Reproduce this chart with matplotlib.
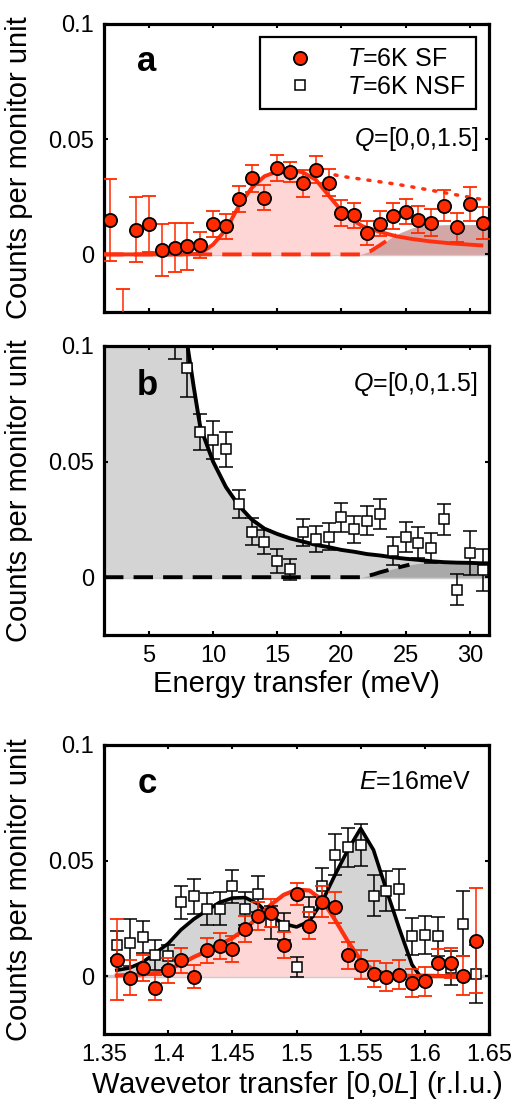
import matplotlib
matplotlib.use("Agg")
import matplotlib.pyplot as plt
from matplotlib.lines import Line2D

plt.rcParams['font.family'] = ['Liberation Sans', 'DejaVu Sans']
plt.rcParams['mathtext.fontset'] = 'custom'
plt.rcParams['mathtext.rm'] = 'Liberation Sans'
plt.rcParams['mathtext.it'] = 'Liberation Sans:italic'

# ---------------- data ----------------
# panel a: SF, Q=[0,0,1.5]
a_E = [2, 3, 4, 5, 6, 7, 8, 9, 10, 11, 12, 13, 14, 15, 16, 17, 18, 19, 20, 21,
       22, 23, 24, 25, 26, 27, 28, 29, 30, 31]
a_I = [0.0148, -0.035, 0.0108, 0.0133, 0.0019, 0.0029, 0.0036, 0.0040, 0.0133, 0.0122,
       0.0241, 0.0331, 0.0246, 0.0375, 0.0357, 0.0308, 0.0367, 0.0311, 0.0180, 0.0170,
       0.0092, 0.0134, 0.0167, 0.0186, 0.0150, 0.0137, 0.0212, 0.0118, 0.0219, 0.0135]
a_err = [0.0178, 0.020, 0.0142, 0.0122, 0.0111, 0.0107, 0.0102, 0.0056, 0.0057, 0.0053,
         0.0056, 0.0059, 0.0055, 0.0058, 0.0043, 0.0058, 0.0058, 0.0058, 0.0055, 0.0055,
         0.0053, 0.0053, 0.0056, 0.0056, 0.0059, 0.0059, 0.0066, 0.0063, 0.0073, 0.0070]

a_fit_E = [1.5, 8.0, 9.0, 10.0, 11.0, 12.0, 13.0, 14.0, 15.0, 16.0, 17.0, 18.0, 19.07,
           20.0, 21.0, 21.66, 23.0, 24.25, 25.5, 26.85, 28.5, 30.9]
a_fit_I = [0.0, 0.0, 0.0004, 0.0043, 0.0108, 0.0209, 0.0288, 0.0339, 0.0360, 0.0367,
           0.0356, 0.0324, 0.0251, 0.0190, 0.0145, 0.0122, 0.0098, 0.0079, 0.0067, 0.0057,
           0.0048, 0.0039]
a_dot_E = [19.5, 20, 21, 22, 23, 24, 25, 26, 27, 28, 29, 30, 31]
a_dot_I = [0.0345, 0.0339, 0.0331, 0.0323, 0.0315, 0.0307, 0.0298, 0.0288, 0.0278,
           0.0268, 0.0258, 0.0248, 0.0238]
a_bg_E = [1.5, 21.5, 22.3, 23.0, 23.9, 24.6, 25.5, 26.6, 28.0, 31.5]
a_bg_I = [0.0, 0.0, 0.0015, 0.0040, 0.0073, 0.0095, 0.0115, 0.0125, 0.0129, 0.0130]
a_bg_dash_end = 24.3

# panel b: NSF, Q=[0,0,1.5]
b_E = [7, 8, 9, 10, 11, 12, 13, 14, 15, 16, 17, 18, 19, 20, 21, 22, 23, 24, 25, 26,
       27, 28, 29, 30, 31]
b_I = [0.107, 0.0906, 0.0629, 0.0593, 0.0553, 0.0317, 0.0197, 0.0153, 0.0071, 0.0035,
       0.0194, 0.0164, 0.0176, 0.0259, 0.0207, 0.0245, 0.0273, 0.0115, 0.0173, 0.0150,
       0.0125, 0.0250, -0.0055, 0.0106, 0.0032]
b_err = [0.0125, 0.0125, 0.0079, 0.0081, 0.0077, 0.0061, 0.0058, 0.0053, 0.0052, 0.0045,
         0.0058, 0.0056, 0.0059, 0.0063, 0.0059, 0.0062, 0.0065, 0.0061, 0.0064, 0.0065,
         0.0065, 0.0068, 0.0067, 0.0095, 0.0090]
b_fit_E = [1.5, 7.9, 8.5, 9, 10, 11, 12, 13, 14, 15, 16, 17, 18, 19, 20, 21, 22, 23, 24,
           25, 26, 27, 28, 29, 30, 31, 31.5]
b_fit_I = [0.13, 0.104, 0.082, 0.065, 0.050, 0.039, 0.031, 0.025, 0.021, 0.0187, 0.0168,
           0.0154, 0.0140, 0.0130, 0.0118, 0.0110, 0.0100, 0.0094, 0.0086, 0.0080, 0.0075,
           0.0069, 0.0065, 0.0063, 0.0062, 0.0060, 0.0060]
b_bg_E = [1.5, 21.6, 22.5, 23.0, 24.0, 25.0, 26.0, 27.0, 28.0, 31.5]
b_bg_I = [0.0, 0.0, 0.0012, 0.0021, 0.0036, 0.0050, 0.0060, 0.0065, 0.0067, 0.0068]
b_bg_dash_end = 25.3

# panel c: E = 16 meV, L scan
c_L = [1.36, 1.37, 1.38, 1.39, 1.40, 1.41, 1.42, 1.43, 1.44, 1.45, 1.46, 1.47, 1.48,
       1.49, 1.50, 1.51, 1.52, 1.53, 1.54, 1.55, 1.56, 1.57, 1.58, 1.59, 1.60, 1.61,
       1.62, 1.63, 1.64]
c_sf = [0.0072, -0.0007, 0.0036, -0.0050, 0.0026, 0.0069, -0.0003, 0.0112, 0.0129,
        0.0118, 0.0204, 0.0259, 0.0273, 0.0136, 0.0356, 0.0218, 0.0323, 0.0299, 0.0090,
        0.0050, 0.0011, -0.0003, 0.0007, -0.0029, -0.0022, 0.0057, 0.0057, 0.0003, 0.0154]
c_sf_err = [0.0176, 0.0075, 0.0057, 0.0055, 0.0054, 0.0054, 0.0050, 0.0054, 0.0056,
            0.0056, 0.0056, 0.0060, 0.0060, 0.0057, 0.0047, 0.0059, 0.0065, 0.0067, 0.0058,
            0.0062, 0.0056, 0.0062, 0.0062, 0.0060, 0.0062, 0.0062, 0.0065, 0.0085, 0.0226]
c_nsf = [0.0137, 0.0144, 0.0170, 0.0093, 0.0086, 0.0319, 0.0345, 0.0292, 0.0292, 0.0388,
         0.0292, 0.0356, 0.0233, 0.0216, 0.0040, 0.0276, 0.0388, 0.0526, 0.0557, 0.0569,
         0.0349, 0.0369, 0.0376, 0.0172, 0.0180, 0.0172, 0.0036, 0.0227, 0.0011]
c_nsf_err = [0.0060, 0.0102, 0.0070, 0.0065, 0.0051, 0.0072, 0.0076, 0.0070, 0.0072,
             0.0073, 0.0072, 0.0079, 0.0072, 0.0058, 0.0043, 0.0068, 0.0079, 0.0088, 0.0085,
             0.0091, 0.0088, 0.0088, 0.0088, 0.0079, 0.0082, 0.0083, 0.0072, 0.0140, 0.0126]
c_fit_L = [1.36, 1.37, 1.38, 1.39, 1.40, 1.41, 1.42, 1.43, 1.44, 1.45, 1.46, 1.47, 1.48,
           1.49, 1.50, 1.51, 1.52, 1.53, 1.54, 1.55, 1.56, 1.57, 1.58, 1.59, 1.596, 1.64]
c_fit_nsf = [0.0026, 0.0036, 0.0060, 0.0100, 0.0141, 0.0201, 0.0247, 0.0284, 0.0319,
             0.0338, 0.0340, 0.0313, 0.0259, 0.0227, 0.0213, 0.0237, 0.0323, 0.0438, 0.0546,
             0.0639, 0.0546, 0.0374, 0.0208, 0.0050, 0.0003, 0.0]
c_fit_sf = [0.0003, 0.0005, 0.0007, 0.0014, 0.0029, 0.0053, 0.0083, 0.0108, 0.0136,
            0.0165, 0.0204, 0.0256, 0.0309, 0.0352, 0.0374, 0.0371, 0.0330, 0.0244, 0.0151,
            0.0069, 0.0026, 0.0010, 0.0003, 0.0001, 0.0, 0.0]

legend_labels = ['$T$=6K SF', '$T$=6K NSF']

# ---------------- style ----------------
RED = '#ff2a00'
RED_LINE = '#ff3010'
PINK = '#ffd6d6'
DPINK = '#d4a7a7'
GREY = '#d4d4d4'
DGREY = '#a9a9a9'
FS_TICK = 17
FS_LAB = 21

fig = plt.figure(figsize=(5.17, 11.06), dpi=100)
W, H = 517.0, 1106.0


def add_ax(x0, x1, ytop, ybot):
    return fig.add_axes([x0 / W, 1 - ybot / H, (x1 - x0) / W, (ybot - ytop) / H])


axa = add_ax(104, 489, 24, 312)
axb = add_ax(104, 489, 346, 635)
axc = add_ax(104, 489, 745, 1034)


def style(ax):
    for s in ax.spines.values():
        s.set_linewidth(2.3)
    ax.tick_params(direction='in', top=True, right=True, length=3, width=1.5,
                   labelsize=FS_TICK)
    ax.tick_params(axis='x', pad=7.5)
    ax.tick_params(axis='y', pad=7)
    ax.set_ylim(-0.025, 0.1)
    ax.set_yticks([0, 0.05, 0.1])
    ax.set_yticklabels(['0', '0.05', '0.1'])
    ax.set_ylabel('Counts per monitor unit', fontsize=FS_LAB)
    ax.yaxis.set_label_coords(-0.185, 0.5)
    ax.axhline(0, color='#cccccc', lw=2.5, zorder=0.5)


ebkw = dict(elinewidth=1.1, capsize=5, capthick=1.1, linestyle='none')

# ---- panel a ----
ax = axa
style(ax)
ax.set_xlim(1.5, 31.5)
ax.set_xticks([5, 10, 15, 20, 25, 30])
ax.set_xticklabels([])
ax.fill_between(a_fit_E, 0, a_fit_I, color=PINK, lw=0, zorder=1)
ax.fill_between(a_bg_E, 0, a_bg_I, color=DPINK, lw=0, zorder=1.5)
ax.plot(a_fit_E, a_fit_I, color=RED_LINE, lw=2.8, zorder=3)
ax.plot(a_dot_E, a_dot_I, color=RED_LINE, lw=2.5, ls=(0, (0.6, 2.6)),
        dash_capstyle='round', zorder=3)
bgE = [e for e in a_bg_E if e <= a_bg_dash_end] + [a_bg_dash_end]
bgI = [i for e, i in zip(a_bg_E, a_bg_I) if e <= a_bg_dash_end] + [0.0084]
ax.plot(bgE, bgI, color=RED_LINE, lw=2.8, ls=(0, (5, 2.6)), zorder=3)
ax.errorbar(a_E, a_I, yerr=a_err, color=RED, ecolor=RED, marker='o', ms=9.5,
            mfc=RED, mec='black', mew=1.3, zorder=4, **ebkw)
ax.text(4.8, 0.0836, 'a', fontsize=25, fontweight='bold', ha='center', va='center')
ax.text(30.7, 0.05, '$Q$=[0,0,1.5]', fontsize=18, ha='right', va='center')
handles = [Line2D([], [], ls='none', marker='o', ms=9.5, mfc=RED, mec='black', mew=1.3),
           Line2D([], [], ls='none', marker='s', ms=7.5, mfc='white', mec='black', mew=1.1)]
leg = ax.legend(handles, legend_labels, loc='upper right',
                bbox_to_anchor=(476 / W, 1 - 37 / H), bbox_transform=fig.transFigure,
                borderaxespad=0, fontsize=18, fancybox=False, framealpha=1,
                edgecolor='black', handlelength=2.3, handletextpad=0.75,
                borderpad=0.42, labelspacing=0.12)
leg.get_frame().set_linewidth(1.6)

# ---- panel b ----
ax = axb
style(ax)
ax.set_xlim(1.5, 31.5)
ax.set_xticks([5, 10, 15, 20, 25, 30])
ax.set_xlabel('Energy transfer (meV)', fontsize=FS_LAB, labelpad=2)
ax.fill_between(b_fit_E, 0, b_fit_I, color=GREY, lw=0, zorder=1)
ax.fill_between(b_bg_E, 0, b_bg_I, color=DGREY, lw=0, zorder=1.5)
ax.plot(b_fit_E, b_fit_I, color='black', lw=2.8, zorder=3)
bgE = [e for e in b_bg_E if e <= b_bg_dash_end] + [b_bg_dash_end]
bgI = [i for e, i in zip(b_bg_E, b_bg_I) if e <= b_bg_dash_end] + [0.0054]
ax.plot(bgE, bgI, color='black', lw=2.8, ls=(0, (5, 2.6)), zorder=3)
ax.errorbar(b_E, b_I, yerr=b_err, color='black', ecolor='black', marker='s', ms=7.5,
            mfc='white', mec='black', mew=1.1, zorder=4, **ebkw)
ax.text(4.9, 0.083, 'b', fontsize=25, fontweight='bold', ha='center', va='center')
ax.text(30.6, 0.0837, '$Q$=[0,0,1.5]', fontsize=18, ha='right', va='center')

# ---- panel c ----
ax = axc
style(ax)
ax.set_xlim(1.35, 1.65)
ax.set_xticks([1.35, 1.4, 1.45, 1.5, 1.55, 1.6, 1.65])
ax.set_xticklabels(['1.35', '1.4', '1.45', '1.5', '1.55', '1.6', '1.65'])
ax.set_xlabel('Wavevetor transfer [0,0$L$] (r.l.u.)', fontsize=FS_LAB, labelpad=2)
ax.fill_between(c_fit_L, 0, c_fit_nsf, color=GREY, lw=0, zorder=1)
ax.fill_between(c_fit_L, 0, c_fit_sf, color=PINK, lw=0, zorder=1.5)
ax.plot(c_fit_L, c_fit_nsf, color='black', lw=2.6, zorder=3)
ax.plot(c_fit_L, c_fit_sf, color=RED_LINE, lw=3.0, zorder=3.1)
ax.errorbar(c_L, c_nsf, yerr=c_nsf_err, color='black', ecolor='black', marker='s',
            ms=7.5, mfc='white', mec='black', mew=1.1, zorder=4, **ebkw)
ax.errorbar(c_L, c_sf, yerr=c_sf_err, color=RED, ecolor=RED, marker='o', ms=9.5,
            mfc=RED, mec='black', mew=1.3, zorder=5, **ebkw)
ax.text(1.3837, 0.0833, 'c', fontsize=25, fontweight='bold', ha='center', va='center')
ax.text(1.6364, 0.084, '$E$=16meV', fontsize=18, ha='right', va='center')

fig.savefig('out.png', dpi=100)
